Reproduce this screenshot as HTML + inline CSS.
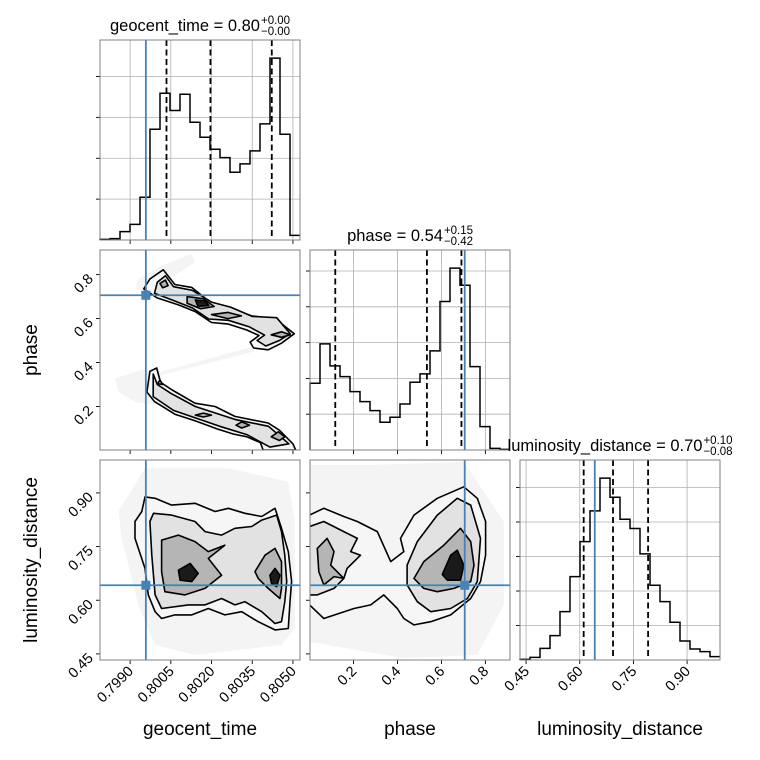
<!DOCTYPE html>
<html><head><meta charset="utf-8">
<style>
html,body{margin:0;padding:0;background:#fff;}
svg{display:block;font-family:"Liberation Sans","DejaVu Sans",sans-serif;}
</style></head>
<body>
<svg id="chart" width="760" height="760" viewBox="0 0 760 760" xmlns="http://www.w3.org/2000/svg"></svg>
<script>
// ---------- data ----------
const geoRange = [0.79789, 0.80526];
const phRange = [0.002, 0.912];
const lumRange = [0.433, 0.992];
const geoTicks = [0.7990, 0.8005, 0.8020, 0.8035, 0.8050];
const geoTickLabels = ["0.7990", "0.8005", "0.8020", "0.8035", "0.8050"];
const phTicks = [0.2, 0.4, 0.6, 0.8];
const phTickLabels = ["0.2", "0.4", "0.6", "0.8"];
const lumTicks = [0.45, 0.60, 0.75, 0.90];
const lumTickLabels = ["0.45", "0.60", "0.75", "0.90"];

const geoHist = [2,4,25,47,128,332,440,388,437,353,308,272,247,203,228,267,348,545,317,14];
const phHist = [200,318,252,220,175,145,118,83,98,138,203,228,297,445,545,494,250,70,5,2];
const lumHist = [2,8,35,73,145,250,355,447,545,488,422,394,318,224,175,113,57,33,25,10];
const geoCountTicks = [122.5, 245, 367.5, 490];
const phCountTicks = [107.3, 214.6, 321.9, 429.2, 536.5];
const lumCountTicks = [103.4, 206.8, 310.2, 413.6, 517];

const geoQuantiles = [0.80034, 0.80196, 0.80422];
const phQuantiles = [0.117, 0.534, 0.691];
const lumQuantiles = [0.611, 0.693, 0.791];
const truthGeo = 0.79958, truthPh = 0.706, truthLum = 0.642;

// panel A: phase vs geocent_time — contours [x,y] in data units
const cloudA = [
 [[0.79930,0.780],[0.80016,0.841],[0.80127,0.894],[0.80139,0.856],[0.80065,0.796],[0.79967,0.720],[0.79918,0.735]],
 [[0.79992,0.350],[0.80348,0.471],[0.80360,0.451],[0.80004,0.339]],
 [[0.79844,0.327],[0.79955,0.372],[0.80016,0.342],[0.80004,0.206],[0.79918,0.221],[0.79857,0.266]]
];
const contA1 = [
 [[0.79973,0.780],[0.80022,0.822],[0.80065,0.755],[0.80127,0.742],[0.80200,0.670],[0.80262,0.650],[0.80348,0.612],[0.80434,0.600],[0.80505,0.531],[0.80458,0.488],[0.80409,0.458],[0.80355,0.466],[0.80342,0.493],[0.80375,0.523],[0.80330,0.548],[0.80262,0.575],[0.80200,0.582],[0.80139,0.632],[0.80078,0.662],[0.79998,0.695],[0.79950,0.735]],
 [[0.79973,0.360],[0.79998,0.375],[0.80012,0.310],[0.80055,0.275],[0.80139,0.215],[0.80213,0.200],[0.80286,0.155],[0.80409,0.125],[0.80450,0.092],[0.80500,0.030],[0.80510,0.002],[0.80390,0.002],[0.80380,0.035],[0.80330,0.062],[0.80280,0.075],[0.80220,0.098],[0.80139,0.135],[0.80065,0.165],[0.79990,0.222],[0.79962,0.266]]
];
const contA2 = [
 [[0.80000,0.765],[0.80030,0.795],[0.80060,0.745],[0.80130,0.728],[0.80200,0.675],[0.80270,0.652],[0.80350,0.610],[0.80440,0.604],[0.80490,0.531],[0.80450,0.500],[0.80400,0.475],[0.80368,0.500],[0.80395,0.525],[0.80340,0.562],[0.80262,0.592],[0.80190,0.598],[0.80130,0.648],[0.80060,0.682],[0.79990,0.715]],
 [[0.79985,0.348],[0.80000,0.300],[0.80050,0.260],[0.80140,0.200],[0.80290,0.140],[0.80410,0.110],[0.80485,0.030],[0.80415,0.015],[0.80330,0.072],[0.80230,0.110],[0.80140,0.148],[0.80060,0.182],[0.79985,0.245]]
];
const contA3 = [
 [[0.80010,0.760],[0.80030,0.775],[0.80040,0.750],[0.80020,0.740]],
 [[0.80110,0.700],[0.80170,0.690],[0.80210,0.655],[0.80160,0.645],[0.80110,0.670]],
 [[0.80200,0.618],[0.80260,0.628],[0.80310,0.612],[0.80260,0.600]],
 [[0.80420,0.526],[0.80458,0.540],[0.80490,0.526],[0.80458,0.515]],
 [[0.80000,0.304],[0.80010,0.320],[0.80020,0.300]],
 [[0.80140,0.161],[0.80170,0.170],[0.80200,0.161],[0.80170,0.152]],
 [[0.80290,0.115],[0.80311,0.130],[0.80340,0.115],[0.80311,0.102]],
 [[0.80420,0.062],[0.80446,0.085],[0.80470,0.062],[0.80450,0.045]]
];
const contA4 = [
 [[0.80140,0.685],[0.80175,0.680],[0.80190,0.660],[0.80150,0.655]]
];

// panel B: luminosity_distance vs geocent_time
const cloudB = [[[0.79857,0.848],[0.79955,0.969],[0.80262,0.969],[0.80483,0.931],[0.80507,0.820],[0.80507,0.521],[0.80458,0.475],[0.80139,0.447],[0.79992,0.475],[0.79930,0.587],[0.79869,0.773]]];
const contB1 = [[[0.79955,0.889],[0.79992,0.885],[0.80053,0.866],[0.80139,0.871],[0.80213,0.848],[0.80262,0.857],[0.80323,0.843],[0.80385,0.834],[0.80434,0.857],[0.80458,0.801],[0.80483,0.736],[0.80495,0.652],[0.80489,0.596],[0.80483,0.521],[0.80434,0.517],[0.80372,0.540],[0.80311,0.568],[0.80249,0.559],[0.80188,0.577],[0.80127,0.559],[0.80065,0.559],[0.80016,0.549],[0.79992,0.568],[0.79967,0.615],[0.79955,0.689],[0.79918,0.773],[0.79918,0.820],[0.79943,0.848]]];
const contB2 = [[[0.79986,0.843],[0.80053,0.838],[0.80139,0.820],[0.80176,0.792],[0.80237,0.782],[0.80286,0.801],[0.80348,0.806],[0.80385,0.824],[0.80440,0.838],[0.80458,0.792],[0.80470,0.726],[0.80477,0.652],[0.80470,0.596],[0.80458,0.540],[0.80434,0.535],[0.80385,0.568],[0.80323,0.596],[0.80286,0.587],[0.80237,0.605],[0.80176,0.587],[0.80114,0.587],[0.80016,0.577],[0.79992,0.615],[0.79980,0.726],[0.79973,0.820]]];
const contB3 = [
 [[0.80016,0.768],[0.80078,0.782],[0.80139,0.764],[0.80188,0.736],[0.80249,0.754],[0.80188,0.717],[0.80237,0.670],[0.80176,0.633],[0.80102,0.615],[0.80028,0.624],[0.80016,0.680]],
 [[0.80360,0.680],[0.80397,0.726],[0.80434,0.745],[0.80458,0.708],[0.80458,0.633],[0.80452,0.605],[0.80409,0.633],[0.80372,0.661]]
];
const contB4 = [
 [[0.80078,0.684],[0.80121,0.703],[0.80151,0.675],[0.80127,0.652],[0.80084,0.656]],
 [[0.80415,0.670],[0.80434,0.689],[0.80452,0.670],[0.80440,0.638],[0.80421,0.647]]
];

// panel C: luminosity_distance vs phase
const cloudC = [[[0.0,0.978],[0.278,0.978],[0.702,0.987],[0.884,0.820],[0.884,0.587],[0.763,0.447],[0.429,0.438],[0.0,0.484]]];
const contC1 = [
 [[0.0,0.838],[0.065,0.857],[0.156,0.834],[0.217,0.820],[0.308,0.792],[0.369,0.708],[0.429,0.736],[0.414,0.773],[0.475,0.838],[0.581,0.885],[0.702,0.917],[0.763,0.885],[0.801,0.820],[0.801,0.726],[0.778,0.652],[0.733,0.605],[0.642,0.559],[0.551,0.540],[0.475,0.531],[0.429,0.549],[0.399,0.577],[0.338,0.615],[0.278,0.587],[0.202,0.577],[0.065,0.549],[0.0,0.587]]
];
const contC2 = [
 [[0.0,0.806],[0.065,0.820],[0.156,0.792],[0.217,0.773],[0.187,0.736],[0.232,0.726],[0.171,0.689],[0.156,0.661],[0.111,0.633],[0.035,0.615],[0.0,0.615]],
 [[0.444,0.698],[0.490,0.764],[0.581,0.838],[0.672,0.885],[0.733,0.866],[0.778,0.773],[0.763,0.652],[0.718,0.605],[0.642,0.577],[0.551,0.568],[0.490,0.596],[0.444,0.643]]
];
const contC3 = [
 [[0.035,0.745],[0.080,0.773],[0.111,0.736],[0.096,0.698],[0.156,0.661],[0.111,0.666],[0.065,0.643],[0.042,0.680]],
 [[0.475,0.661],[0.520,0.708],[0.611,0.754],[0.687,0.801],[0.733,0.764],[0.748,0.698],[0.733,0.652],[0.657,0.633],[0.581,0.624],[0.520,0.633]]
];
const contC4 = [
 [[0.604,0.672],[0.642,0.726],[0.672,0.740],[0.702,0.698],[0.687,0.656],[0.627,0.656]]
];

// ---------- drawing ----------
const svg = document.getElementById('chart');
const NS = 'http://www.w3.org/2000/svg';
function mk(tag, attrs, parent) {
  const e = document.createElementNS(NS, tag);
  for (const k in attrs) e.setAttribute(k, attrs[k]);
  (parent || svg).appendChild(e);
  return e;
}
const PW = 200;
function px(c) { return 100 + 210 * c; }
function py(r) { return 40 + 210 * r; }
function scale(d0, d1, p0, p1) { return v => p0 + (v - d0) / (d1 - d0) * (p1 - p0); }

function frame(x0, y0, name) {
  const r = mk('rect', {x: x0, y: y0, width: PW, height: PW, fill: 'none', stroke: '#808080', 'stroke-width': 1});
  
  
}
function xTicks(x0, y0, ticks, sx, labels, grid, name) {
  ticks.forEach((t, i) => {
    const X = sx(t);
    if (grid) {
      const g = mk('line', {x1: X, y1: y0, x2: X, y2: y0 + PW, stroke: '#b0b0b0', 'stroke-width': 0.8});
      
      
    }
    const tk = mk('line', {x1: X, y1: y0 + PW, x2: X, y2: y0 + PW + 4, stroke: '#000', 'stroke-width': 0.9});
    
    
    if (labels) {
      const tx = mk('text', {x: X + 4, y: y0 + PW + 12, 'font-size': 14.5, 'text-anchor': 'end', fill: '#000',
        transform: `rotate(-45 ${X + 4} ${y0 + PW + 12})`});
      tx.textContent = labels[i];
      
      
    }
  });
}
function yTicks(x0, y0, ticks, sy, labels, grid, name) {
  ticks.forEach((t, i) => {
    const Y = sy(t);
    if (grid) {
      const g = mk('line', {x1: x0, y1: Y, x2: x0 + PW, y2: Y, stroke: '#b0b0b0', 'stroke-width': 0.8});
      
      
    }
    const tk = mk('line', {x1: x0 - 4, y1: Y, x2: x0, y2: Y, stroke: '#000', 'stroke-width': 0.9});
    
    
    if (labels) {
      const tx = mk('text', {x: x0 - 6, y: Y + 5, 'font-size': 14.5, 'text-anchor': 'end', fill: '#000',
        transform: `rotate(-45 ${x0 - 6} ${Y + 5})`});
      tx.textContent = labels[i];
      
      
    }
  });
}

function hist(c, r, counts, range, ticks, countTicks, quants, truth, xlabels, name) {
  const x0 = px(c), y0 = py(r);
  const sx = scale(range[0], range[1], x0, x0 + PW);
  const ymax = 1.1 * Math.max(...counts);
  const sy = scale(0, ymax, y0 + PW, y0);
  xTicks(x0, y0, ticks, sx, xlabels, true, name);
  yTicks(x0, y0, countTicks, sy, null, true, name);
  const n = counts.length, bw = (range[1] - range[0]) / n;
  let d = `M${sx(range[0])},${sy(0)}`;
  counts.forEach((v, i) => {
    d += ` V${sy(v)} H${sx(range[0] + (i + 1) * bw)}`;
  });
  const p = mk('path', {d: d, fill: 'none', stroke: '#000', 'stroke-width': 1.5});
  
  
  quants.forEach(q => {
    const l = mk('line', {x1: sx(q), y1: y0, x2: sx(q), y2: y0 + PW, stroke: '#000', 'stroke-width': 1.8, 'stroke-dasharray': '6,3.5'});
    
    
  });
  const tl = mk('line', {x1: sx(truth), y1: y0, x2: sx(truth), y2: y0 + PW, stroke: '#4682b4', 'stroke-width': 1.8});
  
  
  frame(x0, y0, name);
}

function poly(pts, sx, sy) {
  return pts.map((p, i) => (i ? 'L' : 'M') + sx(p[0]).toFixed(1) + ',' + sy(p[1]).toFixed(1)).join(' ') + ' Z';
}
function twoD(c, r, xr, yr, xt, yt, xl, yl, cloud, levels, truthX, truthY, name) {
  const x0 = px(c), y0 = py(r);
  const sx = scale(xr[0], xr[1], x0, x0 + PW);
  const sy = scale(yr[0], yr[1], y0 + PW, y0);
  const cp = mk('clipPath', {id: `clip-${c}-${r}`});
  mk('rect', {x: x0, y: y0, width: PW, height: PW}, cp);
  const g = mk('g', {'clip-path': `url(#clip-${c}-${r})`});
  
  
  cloud.forEach(pts => {
    const p = mk('path', {d: poly(pts, sx, sy), fill: '#000', 'fill-opacity': 0.045, stroke: 'none'}, g);
    
    
  });
  const fills = ['#f6f6f6', '#e2e2e2', '#b5b5b5', '#1a1a1a'];
  levels.forEach((lev, li) => {
    lev.forEach(pts => {
      const p = mk('path', {d: poly(pts, sx, sy), fill: fills[li], stroke: '#000', 'stroke-width': 1.6, 'stroke-linejoin': 'round'}, g);
      
      
    });
  });
  xTicks(x0, y0, xt, sx, xl, false, name);
  yTicks(x0, y0, yt, sy, yl, false, name);
  const v = mk('line', {x1: sx(truthX), y1: y0, x2: sx(truthX), y2: y0 + PW, stroke: '#4682b4', 'stroke-width': 1.8});
  
  
  const h = mk('line', {x1: x0, y1: sy(truthY), x2: x0 + PW, y2: sy(truthY), stroke: '#4682b4', 'stroke-width': 1.8});
  
  
  const m = mk('rect', {x: sx(truthX) - 4.5, y: sy(truthY) - 4.5, width: 9, height: 9, fill: '#4682b4'});
  
  
  frame(x0, y0, name);
}

hist(0, 0, geoHist, geoRange, geoTicks, geoCountTicks, geoQuantiles, truthGeo, null, 'geocent-hist');
hist(1, 1, phHist, phRange, phTicks, phCountTicks, phQuantiles, truthPh, null, 'phase-hist');
hist(2, 2, lumHist, lumRange, lumTicks, lumCountTicks, lumQuantiles, truthLum, lumTickLabels, 'lum-hist');
twoD(0, 1, geoRange, phRange, geoTicks, phTicks, null, phTickLabels, cloudA, [contA1, contA2, contA3, contA4], truthGeo, truthPh, 'phase-vs-geocent');
twoD(0, 2, geoRange, lumRange, geoTicks, lumTicks, geoTickLabels, lumTickLabels, cloudB, [contB1, contB2, contB3, contB4], truthGeo, truthLum, 'lum-vs-geocent');
twoD(1, 2, phRange, lumRange, phTicks, lumTicks, phTickLabels, null, cloudC, [contC1, contC2, contC3, contC4], truthPh, truthLum, 'lum-vs-phase');

// titles
function title(cx, by, main, sup, sub, name) {
  const g = mk('g', {});
  
  
  const t = mk('text', {x: 0, y: by, 'font-size': 16.5, fill: '#000'}, g);
  t.textContent = main;
  const w = t.getComputedTextLength();
  const total = w + 30;
  const left = cx - total / 2;
  t.setAttribute('x', left);
  const s1 = mk('text', {x: left + w + 1, y: by - 7, 'font-size': 11.5, fill: '#000'}, g);
  s1.textContent = sup;
  const s2 = mk('text', {x: left + w + 1, y: by + 4, 'font-size': 11.5, fill: '#000'}, g);
  s2.textContent = sub;
}
title(200, 31, 'geocent_time = 0.80', '+0.00', '\u22120.00', 'geocent-title');
title(410, 241, 'phase = 0.54', '+0.15', '\u22120.42', 'phase-title');
title(620, 451, 'luminosity_distance = 0.70', '+0.10', '\u22120.08', 'lum-title');

// axis labels
function label(x, y, txt, rot, name) {
  const t = mk('text', {x: x, y: y, 'font-size': 19, 'text-anchor': 'middle', fill: '#000'});
  if (rot) t.setAttribute('transform', `rotate(-90 ${x} ${y})`);
  t.textContent = txt;
  
  
}
label(200, 735, 'geocent_time', false, 'x-axis-title-geocent');
label(410, 735, 'phase', false, 'x-axis-title-phase');
label(620, 735, 'luminosity_distance', false, 'x-axis-title-lum');
label(37, 350, 'phase', true, 'y-axis-title-phase');
label(37, 560, 'luminosity_distance', true, 'y-axis-title-lum');
</script>
</body></html>
